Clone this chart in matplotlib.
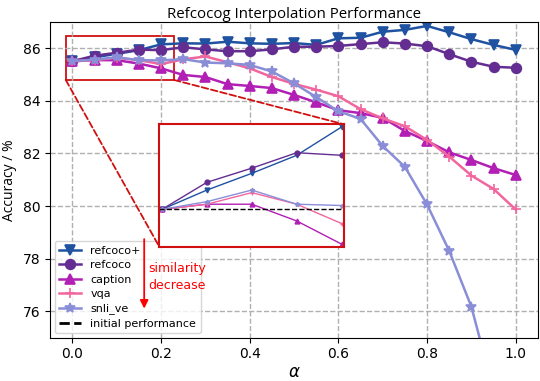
import numpy as np
import matplotlib
matplotlib.use('Agg')
import matplotlib.pyplot as plt
from matplotlib.patches import Rectangle, ConnectionPatch

alpha = np.round(np.arange(0, 1.0001, 0.05), 2)

refcoco_plus = [85.50, 85.65, 85.78, 85.92, 86.14, 86.18, 86.17, 86.24, 86.18, 86.16,
                86.19, 86.12, 86.37, 86.39, 86.62, 86.69, 86.84, 86.60, 86.34, 86.12, 85.93]
refcoco = [85.50, 85.71, 85.82, 85.94, 85.92, 86.03, 85.95, 85.88, 85.88, 85.95,
           86.05, 86.05, 86.08, 86.15, 86.22, 86.17, 86.07, 85.77, 85.48, 85.29, 85.25]
caption = [85.50, 85.54, 85.54, 85.41, 85.23, 84.98, 84.90, 84.63, 84.56, 84.48,
           84.22, 83.94, 83.64, 83.53, 83.35, 82.85, 82.47, 82.04, 81.75, 81.44, 81.18]
vqa = [85.50, 85.54, 85.63, 85.54, 85.39, 85.57, 85.68, 85.46, 85.23, 84.90,
       84.64, 84.42, 84.17, 83.68, 83.33, 83.03, 82.51, 81.88, 81.16, 80.65, 79.87]
snli_ve = [85.50, 85.56, 85.65, 85.54, 85.53, 85.58, 85.45, 85.42, 85.36, 85.11,
           84.66, 84.14, 83.60, 83.31, 82.28, 81.49, 80.06, 78.30, 76.18, 73.00, 70.50]
initial = 85.5

series = [
    ('refcoco+', refcoco_plus, 'v', '#1f52a0'),
    ('refcoco', refcoco, 'o', '#632d92'),
    ('caption', caption, '^', '#b21fb4'),
    ('vqa', vqa, '+', '#f2669e'),
    ('snli_ve', snli_ve, '*', '#8a8ed6'),
]

fig = plt.figure(figsize=(5.4, 3.81), dpi=100)
ax = fig.add_axes([0.093, 0.1136, 0.903, 0.8294])

for name, vals, mk, col in series:
    ax.plot(alpha, vals, marker=mk, color=col, lw=1.8, ms=7, mew=1.2, label=name)
ax.plot([], [], 'k--', lw=2, label='initial performance')

ax.set_xlim(-0.05, 1.05)
ax.set_ylim(75, 87)
ax.set_yticks([76, 78, 80, 82, 84, 86])
ax.set_xticks([0.0, 0.2, 0.4, 0.6, 0.8, 1.0])
ax.grid(True, ls='--', color='#b0b0b0', lw=1)
ax.tick_params(labelsize=10)
ax.set_xlabel(r'$\alpha$', fontsize=12, labelpad=1)
ax.set_ylabel('Accuracy / %', fontsize=10, family='Open Sans')
ax.set_title('Refcocog Interpolation Performance', fontsize=10.8, family='Open Sans', pad=3)

leg = ax.legend(loc='lower left', fontsize=8, handlelength=2, labelspacing=0.4,
                borderaxespad=0.4)
leg.set_zorder(4)

# similarity annotation
ax.annotate('', xy=(0.162, 76.0), xytext=(0.162, 78.85), zorder=7,
            arrowprops=dict(arrowstyle='-|>', color='red', lw=1.3, mutation_scale=12))
ax.text(0.172, 77.3, 'similarity\ndecrease', color='red', fontsize=9, va='center',
        linespacing=1.4, zorder=7)

# zoom box in main axes
x0, x1, y0, y1 = -0.015, 0.229, 84.79, 86.47
ax.add_patch(Rectangle((x0, y0), x1 - x0, y1 - y0, fill=False, ec='#d01010', lw=1.3, zorder=1.5))

# inset
ins = fig.add_axes([0.295, 0.3525, 0.3426, 0.321])
for name, vals, mk, col in series:
    ins.plot(alpha[:5], vals[:5], marker=mk, color=col, lw=1, ms=3.5)
ins.axhline(initial, color='k', ls='--', lw=1)
ins.set_xlim(-0.003, 0.203)
ins.set_ylim(85.21, 86.16)
ins.set_xticks([])
ins.set_yticks([])
for s in ins.spines.values():
    s.set_color('#d01010')
    s.set_linewidth(1.5)

con1 = ConnectionPatch(xyA=(x0, y0), coordsA=ax.transData, xyB=(0, 0), coordsB=ins.transAxes,
                       color='#d01010', ls='--', lw=1.3)
con2 = ConnectionPatch(xyA=(x1, y0), coordsA=ax.transData, xyB=(1, 1), coordsB=ins.transAxes,
                       color='#d01010', ls='--', lw=1.3)
fig.add_artist(con1)
fig.add_artist(con2)

fig.savefig('out.png', dpi=100)
